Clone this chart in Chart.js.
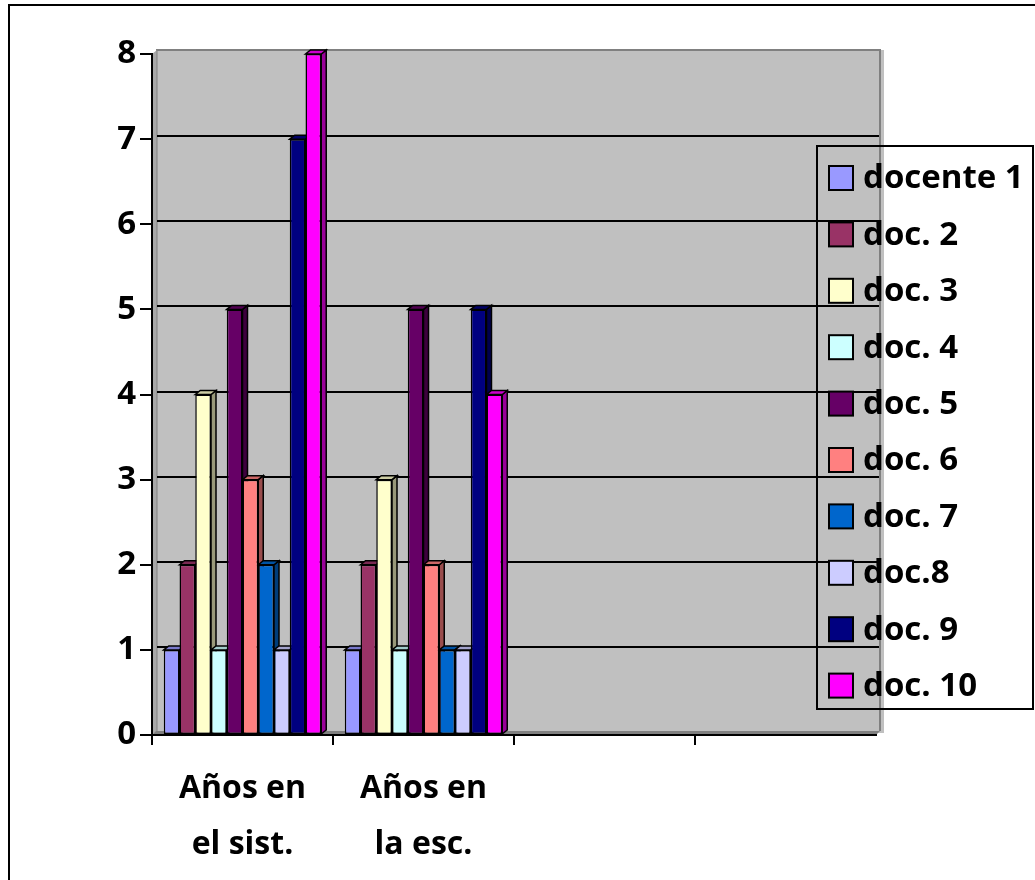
<!DOCTYPE html>
<html>
<head>
<meta charset="utf-8">
<script src="https://cdn.jsdelivr.net/npm/chart.js@4/dist/chart.umd.min.js"></script>
<style>
  html, body { margin: 0; padding: 0; background: #ffffff; }
  #wrap { width: 1035px; height: 880px; position: relative; }
</style>
</head>
<body>
<div id="wrap"><canvas id="c" width="1035" height="880"></canvas></div>
<script>
// Categories (two filled groups, two empty slots on the axis)
const categories = [['Años en', 'el sist.'], ['Años en', 'la esc.'], '', ''];

// One value list per teacher
const docente1 = [1, 1, null, null];
const doc2 = [2, 2, null, null];
const doc3 = [4, 3, null, null];
const doc4 = [1, 1, null, null];
const doc5 = [5, 5, null, null];
const doc6 = [3, 2, null, null];
const doc7 = [2, 1, null, null];
const doc8 = [1, 1, null, null];
const doc9 = [7, 5, null, null];
const doc10 = [8, 4, null, null];

const seriesNames = ['docente 1', 'doc. 2', 'doc. 3', 'doc. 4', 'doc. 5', 'doc. 6', 'doc. 7', 'doc.8', 'doc. 9', 'doc. 10'];
const seriesValues = [docente1, doc2, doc3, doc4, doc5, doc6, doc7, doc8, doc9, doc10];
const seriesColors = ['#9999FF', '#993366', '#FFFFCC', '#CCFFFF', '#660066', '#FF8080', '#0066CC', '#CCCCFF', '#000080', '#FF00FF'];

// Value axis range
const yMin = 0;
const yMax = 8;
const yStep = 1;

const FONT = "'Open Sans', 'DejaVu Sans', sans-serif";

function shade(hex, f) {
  const n = parseInt(hex.slice(1), 16);
  const r = Math.round(((n >> 16) & 255) * f);
  const g = Math.round(((n >> 8) & 255) * f);
  const b = Math.round((n & 255) * f);
  return `rgb(${r},${g},${b})`;
}

// Grey back wall, left wall and floor behind the plot
const wallPlugin = {
  id: 'wall',
  beforeDraw(chart) {
    const { ctx, chartArea: a } = chart;
    const d = 4;
    ctx.save();
    // page frame
    ctx.strokeStyle = '#000';
    ctx.lineWidth = 2;
    ctx.beginPath();
    ctx.moveTo(9, 880); ctx.lineTo(9, 5); ctx.lineTo(1035, 5);
    ctx.stroke();
    // back wall
    ctx.fillStyle = '#C0C0C0';
    ctx.fillRect(a.left + d + 1, a.top - d, a.right - a.left + 3, a.bottom - a.top + 2);
    ctx.strokeStyle = '#808080';
    ctx.lineWidth = 2;
    ctx.beginPath();
    ctx.moveTo(a.left + d, a.top - d);
    ctx.lineTo(a.right + d, a.top - d);
    ctx.lineTo(a.right + d, a.bottom - d);
    ctx.stroke();
    // left wall
    ctx.fillStyle = '#A8A8A8';
    ctx.beginPath();
    ctx.moveTo(a.left, a.top);
    ctx.lineTo(a.left + d + 1, a.top - d);
    ctx.lineTo(a.left + d + 1, a.bottom - d);
    ctx.lineTo(a.left, a.bottom);
    ctx.closePath();
    ctx.fill();
    ctx.strokeStyle = '#808080';
    ctx.lineWidth = 1;
    ctx.beginPath();
    ctx.moveTo(a.left + d + 1, a.top - d);
    ctx.lineTo(a.left + d + 1, a.bottom - d);
    ctx.stroke();
    // floor
    ctx.fillStyle = '#808080';
    ctx.beginPath();
    ctx.moveTo(a.left, a.bottom);
    ctx.lineTo(a.left + d, a.bottom - d);
    ctx.lineTo(a.right + d, a.bottom - d);
    ctx.lineTo(a.right, a.bottom);
    ctx.closePath();
    ctx.fill();
    ctx.restore();
  },
  beforeDatasetsDraw(chart) {
    const { ctx, chartArea: a } = chart;
    const y = chart.scales.y;
    const d = 4;
    ctx.save();
    // gridlines on the back wall
    ctx.strokeStyle = '#000';
    ctx.lineWidth = 2;
    y.ticks.forEach(t => {
      if (t.value === yMin || t.value === yMax) return;
      const py = Math.round(y.getPixelForValue(t.value)) - 3;
      ctx.beginPath();
      ctx.moveTo(a.left + d + 1, py);
      ctx.lineTo(a.right + d - 1, py);
      ctx.stroke();
    });
    // side and top faces of every bar
    const dx = 5, dy = 4;
    chart.data.datasets.forEach((ds, di) => {
      const meta = chart.getDatasetMeta(di);
      meta.data.forEach((bar, i) => {
        if (ds.data[i] == null) return;
        const { x, y: top, base, width } = bar.getProps(['x', 'y', 'base', 'width'], true);
        const l = x - width / 2, r = x + width / 2;
        ctx.lineWidth = 1.5;
        ctx.strokeStyle = '#000';
        ctx.fillStyle = shade(ds.backgroundColor, 0.6);
        ctx.beginPath();
        ctx.moveTo(r, top);
        ctx.lineTo(r + dx, top - dy);
        ctx.lineTo(r + dx, base - dy);
        ctx.lineTo(r, base);
        ctx.closePath();
        ctx.fill(); ctx.stroke();
        ctx.fillStyle = shade(ds.backgroundColor, 0.8);
        ctx.beginPath();
        ctx.moveTo(l, top);
        ctx.lineTo(l + dx, top - dy);
        ctx.lineTo(r + dx, top - dy);
        ctx.lineTo(r, top);
        ctx.closePath();
        ctx.fill(); ctx.stroke();
      });
    });
    ctx.restore();
  }
};

// Boxed legend drawn over the right side of the plot
const boxLegend = {
  id: 'boxLegend',
  afterDraw(chart) {
    const { ctx } = chart;
    const bx = 817, by = 146, bw = 216, bh = 563;
    ctx.save();
    ctx.strokeStyle = '#000';
    ctx.lineWidth = 2;
    ctx.strokeRect(bx, by, bw, bh);
    const step = 56.4;
    ctx.font = `bold 33px ${FONT}`;
    ctx.textBaseline = 'middle';
    ctx.textAlign = 'left';
    chart.data.datasets.forEach((ds, i) => {
      const cy = by + 32 + i * step;
      ctx.fillStyle = ds.backgroundColor;
      ctx.fillRect(bx + 12, cy - 12, 24, 24);
      ctx.lineWidth = 2;
      ctx.strokeRect(bx + 12, cy - 12, 24, 24);
      ctx.fillStyle = '#000';
      ctx.fillText(ds.label, bx + 46, cy + 1);
    });
    ctx.restore();
  }
};

const datasets = seriesNames.map((name, i) => ({
  label: name,
  data: seriesValues[i],
  backgroundColor: seriesColors[i],
  borderColor: '#000',
  borderWidth: 1.5,
  borderSkipped: false,
  categoryPercentage: 0.87,
  barPercentage: 1.0
}));

new Chart(document.getElementById('c'), {
  type: 'bar',
  data: { labels: categories, datasets },
  options: {
    responsive: false,
    animation: false,
    layout: { padding: { top: 54, right: 159, bottom: 0, left: 0 } },
    plugins: { legend: { display: false }, tooltip: { enabled: false } },
    scales: {
      x: {
        grid: {
          display: true, drawOnChartArea: false, lineWidth: 2, tickLength: 10, offset: true,
          // the closing tick at the right end of the axis is left out
          color: (c) => (c.type === 'tick' ? '#000' : 'rgba(0,0,0,0)')
        },
        border: { display: true, color: '#000', width: 2 },
        ticks: { color: '#000', font: { family: FONT, size: 32, weight: 'bold', lineHeight: 1.75 }, padding: 16, maxRotation: 0, autoSkip: false },
        afterFit(s) { s.height = 145; }
      },
      y: {
        min: yMin, max: yMax,
        grid: { display: true, drawOnChartArea: false, color: '#000', lineWidth: 2, tickLength: 12 },
        border: { display: true, color: '#000', width: 2 },
        ticks: { stepSize: yStep, color: '#000', font: { family: FONT, size: 33, weight: 'bold' }, padding: 4 },
        afterFit(s) { s.width = 152; }
      }
    }
  },
  plugins: [wallPlugin, boxLegend]
});
</script>
</body>
</html>
